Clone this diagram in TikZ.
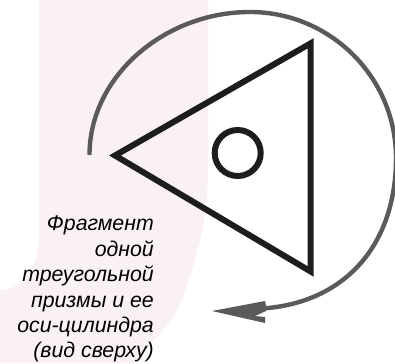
\documentclass[tikz,border=0pt]{standalone}
\usepackage{fontspec}
\setmainfont{Liberation Sans}
\definecolor{wm}{HTML}{F9F1F2}
\definecolor{tri}{HTML}{1D1D1B}
\definecolor{arc}{HTML}{5A5A59}
\begin{document}
\begin{tikzpicture}[x=1pt,y=-1pt,
  caption/.style={font=\itshape\fontsize{21.3}{25.4}\selectfont,align=right,text=black,inner sep=0pt,anchor=north east}]
\useasboundingbox (0,0) rectangle (395,363);
\fill[wm] (39,0) -- (208,0) -- (208,170) .. controls (208,215) and (200,250) .. (180,305)
  .. controls (170,325) and (150,345) .. (133,363) -- (0,363) -- (0,290) .. controls (25,290) and (39,265) .. (39,235) -- cycle;
\draw[arc,line width=4.4pt] (89.5,155) .. controls (89.5,76) and (165,12) .. (250,12)
  .. controls (330,12) and (396,77) .. (396,158)
  .. controls (396,245) and (345,303) .. (262,308.5);
\fill[arc] (212,311) -- (265,301) -- (266,306) -- (266,311) -- (255,316) -- (265,317) -- (265,323) -- cycle;
\coordinate (L) at (115,155.5);
\coordinate (T) at (310.7,43.3);
\coordinate (B) at (310.7,271.5);
\draw[tri,line width=6pt,miter limit=10] (L) -- (T) -- (B) -- cycle;
\node[draw=tri,line width=6pt,circle,minimum size=46pt,inner sep=0pt] (c) at (237.7,153) {};
\node[caption] (t) at (154,216) {Фрагмент\\одной\\треугольной\\призмы и ее\\оси-цилиндра\\(вид сверху)};
\end{tikzpicture}
\end{document}
